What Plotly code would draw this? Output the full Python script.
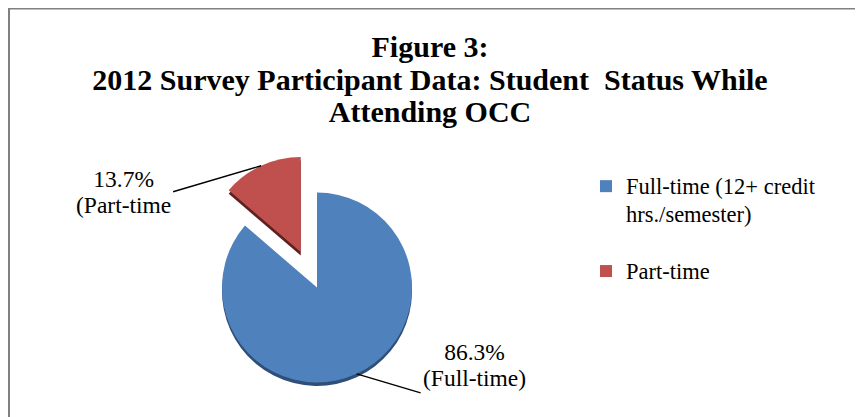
import math

import plotly.graph_objects as go

# Figure 3 data: student status while attending OCC (percent of participants)
statuses = ["Full-time (12+ credit hrs./semester)", "Part-time"]
legend_lines = [["Full-time (12+ credit", "hrs./semester)", " "], ["Part-time"]]
slice_notes = ["(Full-time)", "(Part-time"]
shares = [86.3, 13.7]
slice_colors = ["#4f81bd", "#c0504d"]
edge_colors = ["#2f4e78", "#5c2120"]
pulls = [0, 0.41]

title_lines = [
    "Figure 3:",
    "2012 Survey Participant Data: Student\u00a0 Status While",
    "Attending OCC",
]

W, H = 863, 417
CX, CY, R = 309, 279.5, 95  # pie centre / radius in px
DEPTH = 3.5  # fake 3d rim
FONT = "Liberation Serif, Times New Roman, serif"

half = R * (1 + max(pulls))


def pie_domain(cy):
    return dict(
        x=[(CX - half) / W, (CX + half) / W],
        y=[max(0, (H - cy - half) / H), (H - cy + half) / H],
    )


def sized(lines, px):
    # bigger glyphs than the line pitch, closer to the Word rendering
    return "<br>".join(f'<span style="font-size:{px}px">{s}</span>' for s in lines)


legend_labels = [sized(lines, 22.5) for lines in legend_lines]

fig = go.Figure()
# darker copy underneath, shifted down -> looks like the slice edge
fig.add_trace(
    go.Pie(
        labels=legend_labels,
        values=shares,
        pull=pulls,
        sort=False,
        direction="clockwise",
        marker=dict(colors=edge_colors),
        textinfo="none",
        hoverinfo="skip",
        showlegend=False,
        domain=pie_domain(CY + DEPTH),
    )
)
fig.add_trace(
    go.Pie(
        labels=legend_labels,
        values=shares,
        pull=pulls,
        sort=False,
        direction="clockwise",
        marker=dict(colors=slice_colors),
        textinfo="none",
        customdata=statuses,
        hovertemplate="%{customdata}: %{value:.1f}%<extra></extra>",
        domain=pie_domain(CY),
    )
)

# leader-line labels, tip sits on each slice's mid angle
total = sum(shares)
label_offsets = [
    dict(xanchor="left", yanchor="bottom", ax=64, ay=19),
    dict(xanchor="right", yanchor="middle", ax=-88, ay=26),
]
start = 0.0
for share, note, pull, off in zip(shares, slice_notes, pulls, label_offsets):
    mid = (start + share / 2) / total * 2 * math.pi
    start += share
    dist = R * (1 + pull)
    px = CX + dist * math.sin(mid)
    py = CY - dist * math.cos(mid)
    fig.add_annotation(
        x=px / W,
        y=1 - py / H,
        xref="paper",
        yref="paper",
        text=sized([f"{share / total * 100:.1f}%", note], 23.5),
        showarrow=True,
        arrowhead=0,
        arrowwidth=1.4,
        arrowcolor="black",
        standoff=0,
        align="center",
        font=dict(family=FONT, size=20, color="black"),
        **off,
    )

# chart frame (only left + top edges end up on screen)
fig.add_shape(type="line", xref="paper", yref="paper",
              x0=1 / W, x1=1, y0=1 - 0.5 / H, y1=1 - 0.5 / H,
              line=dict(color="#808080", width=2))
fig.add_shape(type="line", xref="paper", yref="paper",
              x0=1 / W, x1=1 / W, y0=0, y1=1,
              line=dict(color="#808080", width=2))

fig.update_layout(
    width=W,
    height=H,
    margin=dict(l=0, r=0, t=0, b=0),
    paper_bgcolor="white",
    plot_bgcolor="white",
    title=dict(
        text=sized(title_lines, 30),
        x=422 / W,
        xanchor="center",
        y=1 - 49 / H,
        yanchor="top",
        font=dict(family=FONT, size=25, color="black", weight="bold"),
    ),
    legend=dict(
        x=578 / W,
        y=1 - 158 / H,
        xanchor="left",
        yanchor="top",
        valign="top",
        font=dict(family=FONT, size=21, color="black"),
        bgcolor="rgba(0,0,0,0)",
    ),
)

fig.write_html("out.html")
